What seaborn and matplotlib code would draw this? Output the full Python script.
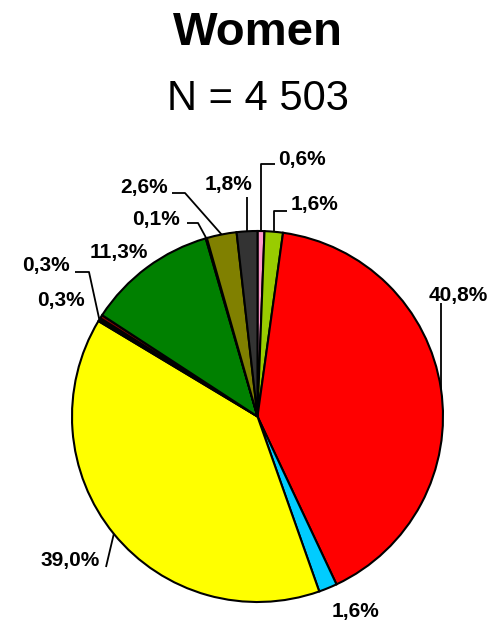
import numpy as np
import matplotlib
matplotlib.use("Agg")
import matplotlib.pyplot as plt
import seaborn as sns

# Distribution for women (shares in %, clockwise from 12 o'clock)
labels = ["0,6%", "1,6%", "40,8%", "1,6%", "39,0%", "0,3%", "0,3%",
          "11,3%", "0,1%", "2,6%", "1,8%"]
shares = [0.6, 1.6, 40.8, 1.6, 39.0, 0.3, 0.3, 11.3, 0.1, 2.6, 1.8]
colors = ["#FF99CC", "#99CC00", "#FF0000", "#00CCFF", "#FFFF00", "#000000",
          "#800000", "#008000", "#993366", "#808000", "#333333"]
title = "Women"
subtitle = "N = 4 503"

sns.set_theme(style="white")
plt.rcParams["font.family"] = ["Liberation Sans", "DejaVu Sans"]

W, H = 492, 625
fig = plt.figure(figsize=(W / 100, H / 100), dpi=100)
fig.patch.set_facecolor("white")

# pie placement in pixels: centre and radius
CX, CY, R = 257.5, 416.5, 185.5
ax = fig.add_axes([(CX - R) / W, (H - CY - R) / H, 2 * R / W, 2 * R / H])

wedges, _ = ax.pie(shares, colors=colors, startangle=90, counterclock=False,
                   radius=1.0, center=(0, 0),
                   wedgeprops=dict(edgecolor="black", linewidth=1.5))
for w in wedges:
    w.set_clip_on(False)

ax.set_xlim(-1, 1)
ax.set_ylim(-1, 1)
ax.set_aspect("equal")
ax.axis("off")


def to_data(px, py):
    return (px - CX) / R, (CY - py) / R


def anchor(i):
    w = wedges[i]
    a = np.deg2rad((w.theta1 + w.theta2) / 2)
    return np.cos(a), np.sin(a)


# label layout: (ha, x px, baseline px, leader waypoints in px after the anchor)
layout = [
    ("left", 278, 165, [("ax", 164), (275, 164)]),
    ("left", 291, 210, [("ax", 210.7), (287, 210.7)]),
    ("left", 429, 301, [("ax", 303)]),
    ("left", 332, 617, []),
    ("right", 100, 566, [(106, 567)]),
    ("right", 70, 271, [(89, 272), (75, 272)]),
    ("right", 85, 306, []),
    ("right", 148, 258, []),
    ("right", 180, 225, [(198, 223), (187, 223)]),
    ("right", 168, 193, [(185, 193), (172, 193)]),
    ("center", 228.5, 190, [("ax", 197)]),
]

for i, (ha, px, py, path) in enumerate(layout):
    x0, y0 = anchor(i)
    xs, ys = [x0], [y0]
    for p in path:
        if p[0] == "ax":
            xs.append(x0)
            ys.append(to_data(0, p[1])[1])
        else:
            dx, dy = to_data(*p)
            xs.append(dx)
            ys.append(dy)
    if len(xs) > 1:
        ax.plot(xs, ys, color="black", lw=1.3, clip_on=False,
                solid_capstyle="butt")
    tx, ty = to_data(px, py)
    ax.text(tx, ty, labels[i], ha=ha, va="baseline", fontsize=15,
            fontweight="bold", color="black", clip_on=False)

fig.text(CX / W, 1 - 45 / H, title, ha="center", va="baseline",
         fontsize=34, fontweight="bold", color="black")
fig.text(CX / W, 1 - 110 / H, subtitle, ha="center", va="baseline",
         fontsize=30, color="black")

fig.savefig("out.png", dpi=100, facecolor="white")
